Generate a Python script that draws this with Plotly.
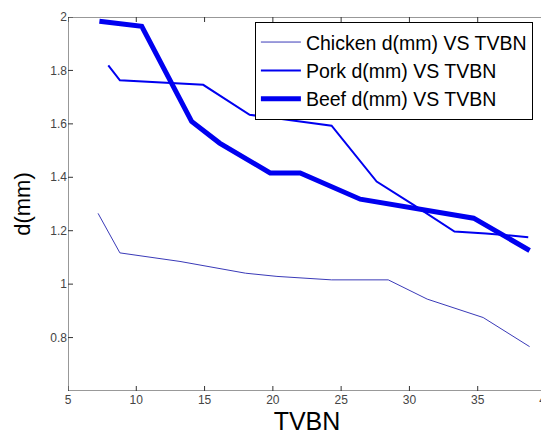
import plotly.graph_objects as go

chicken_x = [7.2, 8.8, 13.2, 18.0, 20.3, 24.3, 28.45, 31.3, 35.4, 38.8]
chicken_y = [1.265, 1.117, 1.085, 1.041, 1.029, 1.016, 1.016, 0.944, 0.875, 0.766]

pork_x = [7.95, 8.8, 14.9, 18.3, 20.5, 24.3, 27.6, 30.3, 33.3, 35.6, 38.7]
pork_y = [1.819, 1.763, 1.746, 1.634, 1.619, 1.593, 1.384, 1.297, 1.197, 1.19, 1.176]

beef_x = [7.3, 10.4, 14.05, 16.1, 19.8, 22.0, 26.4, 30.3, 34.7, 38.8]
beef_y = [1.984, 1.965, 1.609, 1.528, 1.416, 1.416, 1.318, 1.285, 1.247, 1.126]

x_ticks = [5, 10, 15, 20, 25, 30, 35, 40]
y_ticks = [0.8, 1, 1.2, 1.4, 1.6, 1.8, 2]
y_tick_text = ["0.8", "1", "1.2", "1.4", "1.6", "1.8", "2"]

x_range = [5, 40]
y_range = [0.6, 2]

fig = go.Figure()

# axes box and inward ticks (MATLAB style), derived from axis ranges/tick values
plot_w, plot_h = 478, 374
tick_px = 5
dx = tick_px * (x_range[1] - x_range[0]) / plot_w
dy = tick_px * (y_range[1] - y_range[0]) / plot_h
fx = [x_range[0], x_range[1], x_range[1], x_range[0], x_range[0], None]
fy = [y_range[0], y_range[0], y_range[1], y_range[1], y_range[0], None]
for t in x_ticks:
    fx += [t, t, None, t, t, None]
    fy += [y_range[0], y_range[0] + dy, None, y_range[1], y_range[1] - dy, None]
for t in y_ticks:
    fx += [x_range[0], x_range[0] + dx, None, x_range[1], x_range[1] - dx, None]
    fy += [t, t, None, t, t, None]
fig.add_trace(go.Scatter(x=fx, y=fy, mode="lines", showlegend=False,
                         hoverinfo="skip", cliponaxis=False,
                         line=dict(color="#333333", width=1)))

fig.add_trace(go.Scatter(x=chicken_x, y=chicken_y, mode="lines",
                         name="Chicken d(mm) VS TVBN",
                         line=dict(color="#3a3ab8", width=1)))
fig.add_trace(go.Scatter(x=pork_x, y=pork_y, mode="lines",
                         name="Pork d(mm) VS TVBN",
                         line=dict(color="#0000f0", width=2)))
fig.add_trace(go.Scatter(x=beef_x, y=beef_y, mode="lines",
                         name="Beef d(mm) VS TVBN",
                         line=dict(color="#0000f0", width=5)))

font = "Liberation Sans, Arial, sans-serif"
axis_common = dict(
    ticks="", showline=False,
    showgrid=False, zeroline=False, automargin=False,
    ticklabeloverflow="allow",
    tickfont=dict(size=12, color="#444444"),
)

fig.update_layout(
    width=541, height=431,
    margin=dict(l=60, r=3, t=9, b=48, autoexpand=False),
    paper_bgcolor="white", plot_bgcolor="white",
    font=dict(family=font, color="#333333"),
    showlegend=True,
    legend=dict(x=0.391, y=0.987, xanchor="left", yanchor="top",
                bordercolor="black", borderwidth=1, bgcolor="white",
                font=dict(size=19.5, color="black", family=font),
                tracegroupgap=0, itemwidth=40),
    xaxis=dict(range=x_range, tickvals=x_ticks,
               title=dict(text="TVBN", font=dict(size=25, color="black"), standoff=5),
               **axis_common),
    yaxis=dict(range=y_range, tickvals=y_ticks, ticktext=y_tick_text,
               title=dict(text="d(mm)", font=dict(size=22, color="black"), standoff=13),
               **axis_common),
)

fig.write_html("out.html")
